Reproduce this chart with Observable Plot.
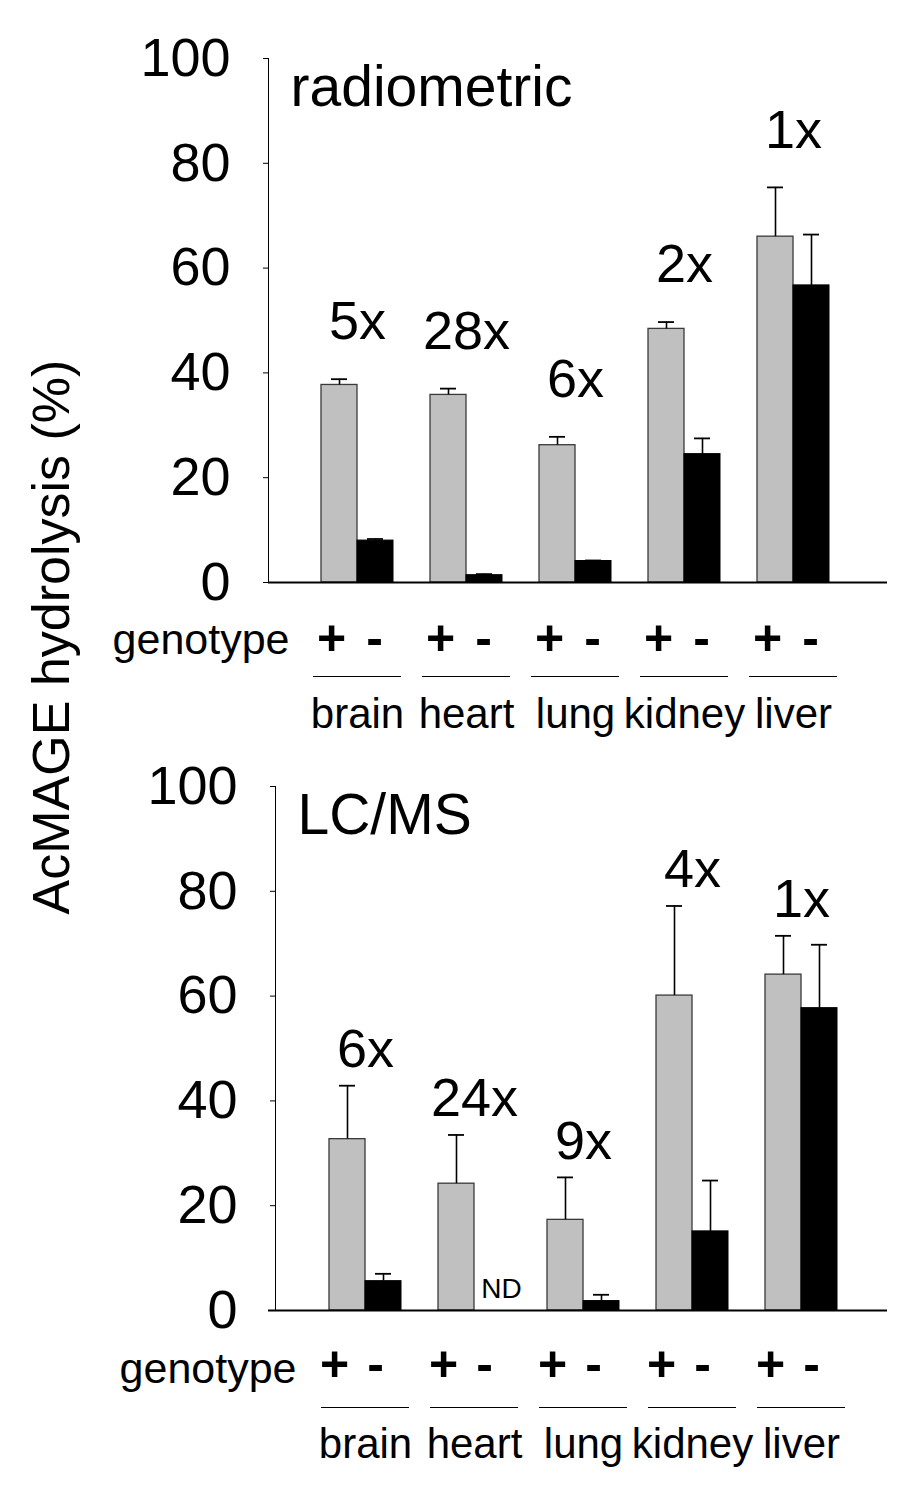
<!DOCTYPE html>
<html><head><meta charset="utf-8">
<script src="https://cdn.jsdelivr.net/npm/d3@7"></script>
<script src="https://cdn.jsdelivr.net/npm/@observablehq/plot@0.6"></script>
<style>
body{margin:0;background:#fff;}
#wrap{position:relative;width:921px;height:1488px;font-family:"Liberation Sans",Arial,sans-serif;}
#wrap svg{display:block;overflow:visible}
#ytitle{position:absolute;left:0;top:0;}
</style></head><body><div id="wrap"></div>
<script>
// ---- data ----
const tissues = ["brain", "heart", "lung", "kidney", "liver"];
const genotypes = ["+", "-"];
const yTicks = [0, 20, 40, 60, 80, 100];

const radioWT    = [37.7, 35.8, 26.2, 48.4, 66.0];
const radioWTErr = [1.1, 1.2, 1.6, 1.3, 9.4];
const radioKO    = [8.0, 1.4, 4.1, 24.5, 56.7];
const radioKOErr = [0.3, 0.2, 0.1, 3.0, 9.7];
const radioFold  = ["5x", "28x", "6x", "2x", "1x"];

const lcmsWT    = [32.7, 24.2, 17.3, 60.1, 64.1];
const lcmsWTErr = [10.2, 9.3, 8.1, 17.1, 7.4];
const lcmsKO    = [5.6, null, 1.8, 15.1, 57.7];   // heart KO: not detected
const lcmsKOErr = [1.4, null, 1.2, 9.7, 12.1];
const lcmsFold  = ["6x", "24x", "9x", "4x", "1x"];

const FONT = "Liberation Sans, Arial, sans-serif";

function panel(cfg) {
  const width = 921, marginRight = 34;
  const {wt, wtErr, ko, koErr, fold, label, height, marginTop, marginLeft, axisExt, align, pI, pO, foldDy} = cfg;
  const plotH = 524;
  const bw = d3.scaleBand().domain(tissues).range([marginLeft, width - marginRight])
    .paddingInner(pI).paddingOuter(pO).align(align).bandwidth();
  const half = bw / 2, q = bw / 4, cap = 8;
  const rows = tissues.flatMap((t, i) => [
    {tissue: t, g: genotypes[0], v: wt[i], e: wtErr[i]},
    {tissue: t, g: genotypes[1], v: ko[i], e: koErr[i]}
  ]);
  const plus = rows.filter(d => d.g === "+");
  const minusAll = rows.filter(d => d.g === "-");
  const minus = minusAll.filter(d => d.v != null);
  const nd = minusAll.filter(d => d.v == null);
  const folds = tissues.map((t, i) => ({
    tissue: t, text: fold[i],
    top: Math.max(wt[i] + wtErr[i], (ko[i] ?? 0) + (koErr[i] ?? 0))
  }));
  return Plot.plot({
    width, height, marginTop, marginLeft, marginRight,
    marginBottom: height - marginTop - plotH,
    style: {fontFamily: FONT, fontSize: "54px", color: "#000", background: "white", overflow: "visible"},
    x: {type: "band", domain: tissues, paddingInner: pI, paddingOuter: pO, align, axis: null},
    y: {domain: [0, 100], ticks: yTicks, tickSize: 5, tickPadding: 33, label: null, line: true},
    marks: [
      Plot.barY(plus, {x: "tissue", y: "v", insetRight: half, fill: "#c0c0c0", stroke: "#3a3a3a", strokeWidth: 1.3}),
      Plot.barY(minus, {x: "tissue", y: "v", insetLeft: half, fill: "#000", stroke: "#000"}),
      Plot.ruleX(plus, {x: "tissue", y1: "v", y2: d => d.v + d.e, dx: -q, stroke: "#000", strokeWidth: 1.6}),
      Plot.ruleX(minus, {x: "tissue", y1: "v", y2: d => d.v + d.e, dx: q, stroke: "#000", strokeWidth: 1.6}),
      Plot.tickY(plus, {x: "tissue", y: d => d.v + d.e, insetLeft: q - cap, insetRight: bw - q - cap, stroke: "#000", strokeWidth: 1.8}),
      Plot.tickY(minus, {x: "tissue", y: d => d.v + d.e, insetLeft: 3 * q - cap, insetRight: q - cap, stroke: "#000", strokeWidth: 1.8}),
      Plot.ruleY([0], {insetLeft: -axisExt, stroke: "#000", strokeWidth: 2}),
      Plot.text(nd, {x: "tissue", frameAnchor: "bottom", text: () => "ND", dx: q + 9, dy: -13, fontSize: 28}),
      Plot.text(folds, {x: "tissue", y: "top", text: "text", dy: foldDy, fontSize: 54}),
      Plot.text([label], {frameAnchor: "top-left", textAnchor: "start", dx: 22, dy: 7, fontSize: 57}),
      Plot.text(["genotype"], {frameAnchor: "bottom-left", textAnchor: "end", dx: 21, dy: cfg.genoDy, fontSize: 43}),
      Plot.text(plus, {x: "tissue", text: "g", frameAnchor: "bottom", dx: -q + cfg.plusDx, dy: cfg.signDy, fontSize: 50, fontWeight: "bold"}),
      Plot.text(minusAll, {x: "tissue", text: "g", frameAnchor: "bottom", dx: q + cfg.minusDx, dy: cfg.signDy, fontSize: 50, fontWeight: "bold"}),
      Plot.tickY(tissues, {x: d => d, y: 0, dy: cfg.ulDy, insetLeft: -8, insetRight: -8, stroke: "#000", strokeWidth: 1}),
      Plot.text(tissues, {x: d => d, frameAnchor: "bottom", dy: cfg.nameDy, fontSize: 42})
    ]
  });
}

const wrap = document.getElementById("wrap");
wrap.append(panel({
  wt: radioWT, wtErr: radioWTErr, ko: radioKO, koErr: radioKOErr, fold: radioFold,
  label: "radiometric", height: 745, marginTop: 58, marginLeft: 268, axisExt: 0,
  align: 0.473, pI: 0.341, pO: 0.5035, foldDy: -57, ulDy: 94, nameDy: 145,
  genoDy: 71, signDy: 72, plusDx: -8, minusDx: -1
}));
wrap.append(panel({
  wt: lcmsWT, wtErr: lcmsWTErr, ko: lcmsKO, koErr: lcmsKOErr, fold: lcmsFold,
  label: "LC/MS", height: 743, marginTop: 41, marginLeft: 275, axisExt: 7,
  align: 0.515, pI: 0.344, pO: 0.46, foldDy: -36, ulDy: 97, nameDy: 147,
  genoDy: 72, signDy: 70, plusDx: -13, minusDx: -8
}));

// shared y-axis title
const ns = "http://www.w3.org/2000/svg";
const t = document.createElementNS(ns, "svg");
t.setAttribute("id", "ytitle");
t.setAttribute("width", 120);
t.setAttribute("height", 1488);
const txt = document.createElementNS(ns, "text");
txt.setAttribute("transform", "translate(69,637) rotate(-90)");
txt.setAttribute("text-anchor", "middle");
txt.setAttribute("font-family", FONT);
txt.setAttribute("font-size", 52);
txt.textContent = "AcMAGE hydrolysis (%)";
t.append(txt);
wrap.append(t);
</script>
</body></html>
